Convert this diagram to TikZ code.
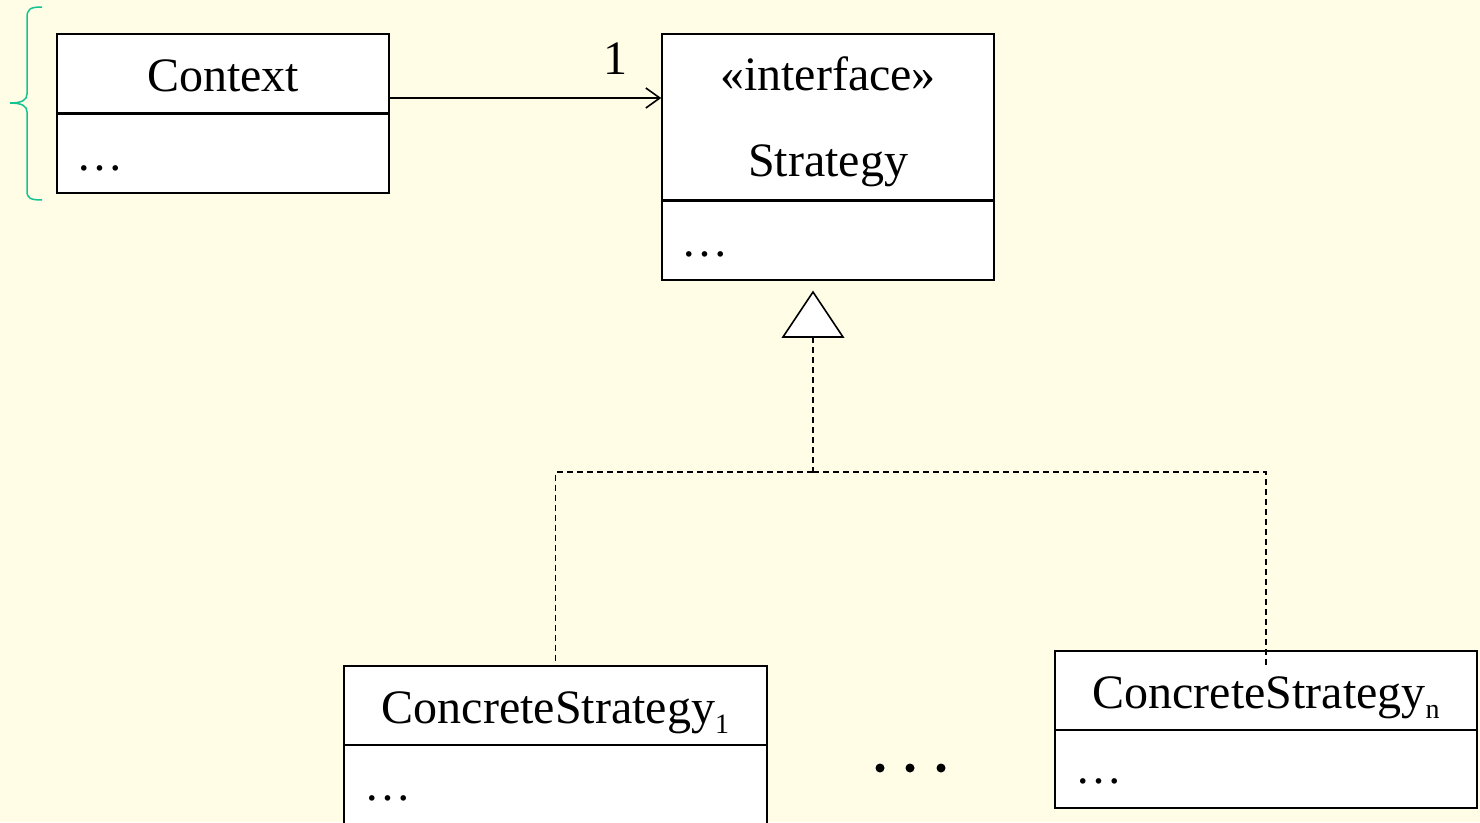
\documentclass[tikz,border=0pt]{standalone}
\usepackage{fontspec}
\setmainfont{Liberation Serif}
\usetikzlibrary{arrows.meta}
\definecolor{bgc}{RGB}{255,253,230}
\definecolor{bracec}{RGB}{20,195,145}
\tikzset{
  box/.style={draw=black, line width=1.6pt, fill=white, inner sep=0pt},
  txt/.style={inner sep=0pt, font=\fontsize{48}{52}\selectfont},
  dotsn/.style={inner sep=0pt, anchor=base west, font=\fontsize{47}{50}\selectfont},
  thick divider/.style={line width=2.6pt},
  real/.style={dashed, line width=1.4pt, dash pattern=on 6pt off 4pt},
  bigdot/.style={circle, fill=black, inner sep=0pt, minimum size=9pt},
}
\newcommand{\mysub}[1]{\raisebox{-10pt}{\fontsize{28}{28}\selectfont #1}}
\begin{document}
\begin{tikzpicture}[x=1pt,y=-1pt]
\clip (0,0) rectangle (1480,822);
\fill[bgc] (0,0) rectangle (1480,822);

% brace
\draw[bracec, line width=1.5pt] (42,7) .. controls (30,7) and (27,9) .. (27,18) -- (27,94)
  .. controls (27,100) and (22,103) .. (10,103) .. controls (22,103) and (27,106) .. (27,112)
  -- (27,191) .. controls (27,198) and (30,200) .. (42,200);

% Context
\node[box, minimum width=332pt, minimum height=79pt] (ctxT) at (223,73.5) {};
\node[box, minimum width=332pt, minimum height=80pt] (ctxB) at (223,153) {};
\draw[thick divider] (ctxT.south west) -- (ctxT.south east);
\node[txt, anchor=base] (ctxL) at (223,91) {Context};
\node[dotsn] (ctxD) at (76,170) {…};

% Strategy
\node[box, minimum width=332pt, minimum height=166pt] (stT) at (828,117) {};
\node[box, minimum width=332pt, minimum height=80pt] (stB) at (828,240) {};
\draw[thick divider] (stT.south west) -- (stT.south east);
\node[txt, anchor=base] (stL1) at (828,90) {«interface»};
\node[txt, anchor=base] (stL2) at (828,176) {Strategy};
\node[dotsn] (stD) at (681,256) {…};

% association
\draw[line width=1.6pt, -{Straight Barb[length=14pt,width=20pt,line width=1.6pt]}]
  ([yshift=-24.5pt]ctxT.east) -- ([yshift=19pt]stT.west);
\node[txt, anchor=base] (mult) at (615,74) {1};

% realization triangle
\coordinate (triA) at (813,292);
\coordinate (triB) at (813,337);
\coordinate (jn) at (813,472);
\draw[line width=1.6pt, fill=white] (triA) -- (843,337) -- (783,337) -- cycle;

% ConcreteStrategy 1
\node[box, minimum width=423pt, minimum height=79pt] (cs1T) at (555.5,705.5) {};
\node[box, minimum width=423pt, minimum height=85pt] (cs1B) at (555.5,787.5) {};
\node[txt, anchor=base] (cs1L) at (555.5,723) {ConcreteStrategy\mysub{1}};
\node[dotsn] (cs1D) at (364,800) {…};

% ConcreteStrategy n
\node[box, minimum width=422pt, minimum height=79pt] (csnT) at (1266,690.5) {};
\node[box, minimum width=422pt, minimum height=78pt] (csnB) at (1266,769) {};
\node[txt, anchor=base] (csnL) at (1266,708) {ConcreteStrategy\mysub{n}};
\node[dotsn] (csnD) at (1075,783) {…};

% dashed realization lines
\draw[real] (triB) -- (jn);
\draw[real] (jn) -| (cs1T.north);
\draw[real] (jn) -| ([yshift=-17pt]csnT.north);

% ellipsis dots between
\node[bigdot] (d1) at (880,768) {};
\node[bigdot] (d2) at (910,768) {};
\node[bigdot] (d3) at (941,768) {};
\end{tikzpicture}
\end{document}
